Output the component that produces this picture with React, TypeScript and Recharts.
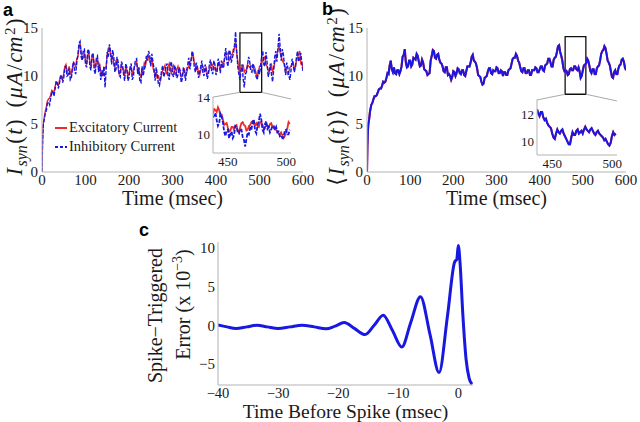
import React from 'react';
import { LineChart, Line, XAxis, YAxis, ReferenceArea, ReferenceLine, Legend } from 'recharts';

const SERIF = '"Liberation Serif", "Times New Roman", "DejaVu Serif", serif';
const SANS = '"Liberation Sans", Arial, sans-serif';
const RED = '#f02a2a';
const BLUE = '#1818e0';
const AXIS = '#b3b3b3';
const INK = '#1a1a1a';

// ---- panel a / b : synaptic currents over time (coarse samples) ----
const timeMs = [
  0, 1, 2, 3, 5, 7, 10, 15, 20, 25,
  30, 35, 40, 45, 50, 55, 60, 65, 70, 75,
  80, 85, 90, 95, 100, 105, 110, 115, 120, 125,
  130, 135, 140, 145, 150, 155, 160, 165, 170, 175,
  180, 185, 190, 195, 200, 205, 210, 215, 220, 225,
  230, 235, 240, 245, 250, 255, 260, 265, 270, 275,
  280, 285, 290, 295, 300, 305, 310, 315, 320, 325,
  330, 335, 340, 345, 350, 355, 360, 365, 370, 375,
  380, 385, 390, 395, 400, 405, 410, 415, 420, 425,
  430, 435, 440, 445, 450, 455, 460, 465, 470, 475,
  480, 485, 490, 495, 500, 505, 510, 515, 520, 525,
  530, 535, 540, 545, 550, 555, 560, 565, 570, 575,
  580, 585, 590, 595, 600,
];
const excitatory = [
  0, 2.8, 4.2, 5.0, 5.6, 6.2, 6.8, 7.6, 8.0, 8.4,
  8.9, 9.2, 9.5, 9.9, 10.3, 11.2, 10.6, 10.4, 10.8, 11.3,
  11.8, 12.9, 12.6, 11.9, 11.6, 12.2, 11.5, 11.9, 11.2, 11.6,
  10.9, 10.5, 10.2, 10.8, 12.3, 13.0, 11.8, 11.2, 11.6, 10.8,
  10.4, 10.9, 10.1, 10.6, 10.3, 10.9, 10.5, 11.2, 10.6, 10.1,
  10.7, 11.3, 11.6, 12.0, 11.4, 10.9, 10.2, 9.7, 9.6, 10.2,
  10.8, 10.4, 11.0, 10.6, 10.9, 10.3, 10.7, 10.4, 9.9, 10.5,
  10.1, 10.8, 11.5, 12.1, 11.4, 10.7, 10.3, 10.6, 11.0, 10.5,
  10.2, 10.8, 11.3, 10.7, 10.5, 11.2, 10.8, 11.4, 11.8, 12.3,
  11.6, 12.2, 12.8, 13.6, 11.6, 10.5, 10.8, 10.4, 10.6, 11.0,
  11.1, 10.9, 10.7, 9.9, 11.0, 11.6, 11.9, 11.2, 10.6, 11.0,
  10.5, 11.4, 12.2, 13.2, 12.0, 11.4, 10.6, 10.2, 10.9, 11.3,
  10.8, 11.6, 12.3, 11.3, 10.8,
];
const inhibitory = [
  0, 2.5, 4.0, 5.1, 5.4, 6.0, 6.4, 7.3, 7.7, 8.3,
  8.6, 9.3, 9.2, 10.1, 9.8, 11.0, 10.1, 9.6, 10.9, 10.5,
  11.4, 13.4, 12.0, 12.7, 11.2, 12.6, 11.0, 12.2, 10.6, 11.9,
  10.4, 9.6, 10.0, 8.8, 12.5, 13.3, 11.2, 12.0, 10.7, 11.5,
  9.9, 11.2, 9.5, 10.9, 9.8, 11.3, 9.9, 11.7, 10.2, 9.4,
  11.0, 10.6, 12.1, 12.6, 11.0, 11.5, 9.5, 10.2, 9.0, 10.6,
  9.9, 11.0, 10.0, 11.2, 10.2, 11.1, 9.8, 10.9, 9.3, 10.9,
  9.5, 11.2, 10.7, 12.6, 11.0, 11.4, 9.8, 11.0, 10.3, 11.2,
  9.7, 11.3, 10.5, 11.6, 10.1, 11.8, 10.3, 11.0, 12.2, 11.5,
  12.7, 11.4, 12.3, 14.6, 11.0, 9.6, 11.2, 8.8, 10.4, 12.0,
  10.5, 11.3, 10.2, 9.6, 10.2, 12.1, 11.2, 12.5, 9.9, 11.3,
  9.4, 12.0, 11.5, 14.4, 11.6, 12.2, 10.1, 10.9, 9.6, 11.8,
  10.4, 12.0, 11.5, 12.4, 10.5,
];
const meanCurrent = [
  0, 2.7, 4.1, 4.9, 5.5, 6.3, 7.0, 7.6, 7.9, 8.3,
  8.7, 9.0, 9.3, 9.8, 10.2, 11.6, 10.4, 10.3, 10.6, 10.2,
  11.0, 12.2, 11.4, 11.0, 11.6, 11.2, 11.8, 12.3, 11.5, 11.1,
  11.4, 10.6, 10.1, 10.3, 12.1, 12.6, 11.8, 12.3, 11.4, 11.0,
  10.4, 10.9, 10.2, 9.6, 10.5, 10.0, 10.8, 10.3, 10.6, 10.1,
  10.5, 11.0, 11.4, 12.2, 11.5, 10.8, 10.0, 9.4, 9.2, 9.9,
  10.5, 10.8, 10.2, 10.5, 10.9, 10.3, 10.6, 10.0, 10.4, 10.1,
  10.7, 11.3, 11.9, 12.3, 11.6, 10.9, 10.4, 10.8, 10.3, 10.6,
  10.1, 10.6, 10.9, 10.4, 10.7, 11.0, 10.5, 11.2, 11.8, 11.4,
  11.0, 11.9, 12.5, 13.2, 12.1, 10.8, 10.6, 10.1, 10.7, 10.6,
  11.0, 10.7, 10.9, 9.8, 10.6, 11.2, 11.8, 11.1, 10.3, 10.7,
  10.2, 11.0, 11.6, 12.6, 13.1, 12.3, 11.4, 10.5, 9.8, 10.6,
  10.2, 11.1, 11.7, 11.5, 10.6,
];

// ---- extra samples between the coarse ones (the fast fluctuations) ----
const midTimeMs = [
  12.5, 17.5, 22.5, 27.5, 32.5, 37.5, 42.5, 47.5, 52.5, 57.5,
  62.5, 67.5, 72.5, 77.5, 82.5, 87.5, 92.5, 97.5, 102.5, 107.5,
  112.5, 117.5, 122.5, 127.5, 132.5, 137.5, 142.5, 147.5, 152.5, 157.5,
  162.5, 167.5, 172.5, 177.5, 182.5, 187.5, 192.5, 197.5, 202.5, 207.5,
  212.5, 217.5, 222.5, 227.5, 232.5, 237.5, 242.5, 247.5, 252.5, 257.5,
  262.5, 267.5, 272.5, 277.5, 282.5, 287.5, 292.5, 297.5, 302.5, 307.5,
  312.5, 317.5, 322.5, 327.5, 332.5, 337.5, 342.5, 347.5, 352.5, 357.5,
  362.5, 367.5, 372.5, 377.5, 382.5, 387.5, 392.5, 397.5, 402.5, 407.5,
  412.5, 417.5, 422.5, 427.5, 432.5, 437.5, 442.5, 447.5, 452.5, 457.5,
  462.5, 467.5, 472.5, 477.5, 482.5, 487.5, 492.5, 497.5, 502.5, 507.5,
  512.5, 517.5, 522.5, 527.5, 532.5, 537.5, 542.5, 547.5, 552.5, 557.5,
  562.5, 567.5, 572.5, 577.5, 582.5, 587.5, 592.5, 597.5,
];
const excitatoryMid = [
  7.4, 7.7, 8.5, 8.3, 9.3, 9.0, 10.0, 9.6, 11.0, 10.4,
  11.0, 10.1, 11.4, 10.9, 12.0, 13.4, 12.0, 12.4, 11.2, 12.4,
  11.0, 12.2, 10.8, 11.8, 11.2, 10.0, 10.9, 11.0, 12.9, 12.2,
  12.1, 10.9, 11.7, 10.2, 11.1, 10.5, 10.9, 10.0, 10.8, 10.2,
  11.0, 11.4, 10.8, 9.9, 10.6, 11.0, 12.1, 11.5, 11.8, 10.4,
  10.4, 10.1, 9.5, 10.6, 11.1, 10.2, 11.3, 10.3, 11.1, 10.1,
  11.0, 10.5, 10.1, 10.7, 10.3, 11.0, 11.6, 12.3, 11.2, 10.9,
  10.1, 10.9, 10.6, 10.8, 10.3, 10.9, 11.1, 10.9, 10.8, 11.4,
  10.9, 11.3, 12.1, 12.4, 11.8, 12.3, 12.9, 12.4, 10.6, 10.9,
  11.2, 10.6, 11.2, 10.9, 11.0, 10.5, 10.2, 10.4, 11.1, 11.5,
  12.0, 11.0, 10.4, 11.2, 10.8, 11.7, 12.8, 12.4, 11.6, 11.2,
  10.5, 10.4, 11.0, 11.4, 10.9, 11.9, 12.6, 11.4,
];
const inhibitoryMid = [
  7.2, 7.0, 8.4, 7.9, 9.5, 8.7, 9.9, 9.3, 10.9, 10.0,
  10.8, 9.8, 11.5, 10.2, 12.2, 13.6, 11.6, 12.8, 10.9, 12.8,
  10.6, 12.4, 10.2, 12.1, 11.2, 10.6, 11.0, 10.7, 12.0, 12.6,
  12.7, 10.4, 12.0, 10.1, 11.5, 10.2, 11.3, 9.5, 10.9, 9.6,
  11.0, 11.8, 10.9, 9.3, 10.0, 11.4, 11.6, 12.2, 12.3, 10.8,
  10.9, 9.2, 9.8, 11.1, 10.3, 11.3, 9.6, 11.5, 9.9, 10.7,
  10.1, 10.6, 9.7, 10.3, 10.6, 11.9, 11.5, 12.0, 10.4, 10.7,
  10.4, 11.6, 10.0, 10.5, 10.2, 11.7, 10.2, 11.2, 10.4, 11.1,
  11.6, 10.8, 12.9, 11.0, 12.5, 11.9, 13.2, 12.7, 10.2, 10.5,
  9.7, 10.2, 11.2, 11.5, 10.4, 11.0, 9.9, 10.7, 11.0, 12.6,
  11.0, 11.4, 10.5, 10.2, 10.6, 12.6, 12.9, 13.0, 12.8, 11.0,
  11.4, 10.0, 10.6, 11.1, 10.9, 12.6, 11.8, 11.2,
];
const meanCurrentMid = [
  7.2, 7.9, 8.0, 8.6, 8.7, 9.4, 9.4, 10.3, 11.1, 10.7,
  10.9, 10.2, 10.6, 10.5, 12.0, 12.8, 10.9, 11.6, 11.0, 11.9,
  11.7, 12.1, 11.0, 11.7, 10.7, 10.5, 10.2, 11.6, 12.7, 11.9,
  12.2, 11.7, 11.3, 10.5, 10.9, 10.1, 10.0, 9.9, 10.4, 10.3,
  10.7, 10.2, 10.6, 10.0, 11.0, 11.0, 12.0, 11.6, 11.3, 10.1,
  9.9, 9.1, 9.8, 10.0, 10.8, 10.3, 10.6, 10.5, 10.8, 10.3,
  10.5, 10.4, 10.1, 10.6, 10.8, 11.8, 11.9, 12.1, 11.4, 10.5,
  10.8, 10.3, 10.6, 10.1, 10.6, 10.6, 10.8, 10.4, 11.0, 10.6,
  11.1, 11.3, 11.8, 11.0, 11.7, 12.0, 13.1, 12.5, 11.6, 10.5,
  10.5, 10.2, 10.8, 10.6, 11.0, 10.6, 10.5, 10.0, 11.1, 11.3,
  11.6, 10.5, 10.7, 10.2, 10.8, 11.1, 12.3, 12.7, 12.9, 11.6,
  11.1, 9.9, 10.4, 10.2, 10.8, 11.2, 11.8, 10.9,
];

// ---- insets (zoom 438-500 ms) ----
const insetTime = [
  438, 440, 442, 444, 446, 448, 450, 452, 454, 456, 458, 460, 462, 464, 466, 468,
  470, 472, 474, 476, 478, 480, 482, 484, 486, 488, 490, 492, 494, 496, 498, 500,
];
const insetExc = [
  12.2, 12.6, 12.9, 12.0, 11.6, 11.1, 10.7, 10.4, 10.8, 10.9, 10.4, 10.8, 11.3, 10.9, 10.5, 11.0,
  11.4, 11.0, 10.9, 11.3, 11.0, 10.7, 10.9, 11.1, 10.8, 10.5, 10.3, 10.0, 9.9, 9.8, 10.6, 11.1,
];
const insetInh = [
  11.8, 12.3, 10.9, 12.2, 11.3, 9.8, 10.5, 10.0, 9.6, 10.9, 10.2, 10.6, 9.7, 8.7, 10.2, 10.7,
  11.3, 10.4, 11.0, 12.2, 10.5, 11.1, 10.6, 10.2, 10.9, 10.5, 10.2, 9.8, 9.6, 10.4, 10.0, 10.5,
];
const insetMean = [
  12.4, 11.9, 12.2, 11.6, 11.4, 11.1, 10.6, 10.2, 10.9, 10.6, 10.9, 10.4, 10.0, 9.8, 10.7, 10.5,
  10.9, 10.7, 10.6, 11.1, 10.8, 10.9, 10.8, 10.5, 10.8, 10.5, 10.3, 10.2, 9.8, 9.9, 10.7, 10.6,
];
const insetMidTime = [
  439, 441, 443, 445, 447, 449, 451, 453, 455, 457,
  459, 461, 463, 465, 467, 469, 471, 473, 475, 477,
  479, 481, 483, 485, 487, 489, 491, 493, 495, 497, 499,
];
const insetExcMid = [
  12.7, 12.4, 12.6, 12.1, 11.0, 11.2, 10.3, 10.8, 10.5, 11.0,
  10.2, 11.2, 11.0, 10.4, 10.9, 11.3, 11.1, 11.2, 10.8, 11.3,
  10.6, 11.0, 10.7, 11.2, 10.7, 10.5, 10.1, 10.2, 9.6, 10.3, 11.3,
];
const insetInhMid = [
  12.0, 11.5, 11.2, 11.9, 10.3, 10.4, 9.6, 10.3, 9.9, 10.8,
  10.1, 10.5, 9.4, 9.5, 10.0, 10.5, 11.6, 10.1, 11.4, 11.6,
  10.2, 11.4, 10.8, 10.5, 10.9, 10.8, 10.3, 9.9, 9.7, 10.5, 10.0,
];
const insetMeanMid = [
  12.1, 12.2, 11.8, 11.7, 11.2, 11.0, 10.3, 10.6, 10.7, 10.8,
  10.6, 10.2, 9.8, 10.3, 10.5, 10.8, 10.6, 10.8, 10.9, 10.9,
  10.7, 11.0, 10.6, 10.7, 10.6, 10.4, 10.1, 10.0, 9.7, 10.4, 10.5,
];

// ---- panel c : spike-triggered error ----
const lagMs = [
  -40, -38.5, -37, -35.2, -33.5, -31.8, -30, -28, -26, -24, -22, -20.5, -19, -17.3, -15.5, -14,
  -12.5, -11, -9.4, -7.9, -6.3, -4.7, -3.2, -1.8, -0.6, -0.25, 0, 0.3, 0.75, 1.3, 1.8, 2.3,
];
const spikeError = [
  0.05, -0.2, -0.4, -0.2, 0, -0.2, -0.4, -0.2, 0, -0.2, -0.45, -0.1, 0.35, -0.4, -1.2, 0,
  1.3, -0.6, -2.8, 0.4, 3.7, -1.2, -6.1, 1.2, 8.2, 8.5, 10.3, 8.0, 1.5, -4.4, -6.8, -7.6,
];

const mainTicksX = [0, 100, 200, 300, 400, 500, 600];
const mainTicksY = [0, 5, 10, 15];
const insetTicksX = [450, 480, 500];
const insetTicksYA = [8, 10, 12, 14];
const insetTicksYB = [10, 12];
const cTicksX = [-40, -30, -20, -10, 0];
const cTicksY = [-5, 0, 5, 10];

const byTime = (a: { t: number }, b: { t: number }) => a.t - b.t;
const mainData = [
  ...timeMs.map((t, i) => ({ t, exc: excitatory[i], inh: inhibitory[i], mean: meanCurrent[i] })),
  ...midTimeMs.map((t, i) => ({ t, exc: excitatoryMid[i], inh: inhibitoryMid[i], mean: meanCurrentMid[i] })),
].sort(byTime);
const insetData = [
  ...insetTime.map((t, i) => ({ t, exc: insetExc[i], inh: insetInh[i], mean: insetMean[i] })),
  ...insetMidTime.map((t, i) => ({ t, exc: insetExcMid[i], inh: insetInhMid[i], mean: insetMeanMid[i] })),
].sort(byTime);
const cData = lagMs.map((t, i) => ({ t, err: spikeError[i] }));

const tickStyle = { fontSize: 15, fill: INK, fontFamily: SERIF };
const cTickStyle = { fontSize: 14.5, fill: INK, fontFamily: SERIF };
const insetTickStyle = { fontSize: 13, fill: INK, fontFamily: SERIF };
const minus = (v: number) => (v < 0 ? `\u2212${-v}` : `${v}`);

const SynLabel = (props: any) => {
  const vb = props.viewBox || { x: 0, y: 28, width: 42, height: 144 };
  const cx = vb.x + props.dx;
  const cy = vb.y + vb.height / 2 - 3;
  const bracket = props.bracket;
  const g = 1.5;
  return (
    <text x={cx} y={cy} transform={`rotate(-90, ${cx}, ${cy})`} textAnchor="middle" fontFamily={SERIF} fontSize={22.5} fill={INK}>
      {bracket ? <tspan>{'\u27E8'}</tspan> : null}
      <tspan fontStyle="italic" dx={bracket ? g : 0}>I</tspan>
      <tspan fontStyle="italic" fontSize={16} dy={5} dx={g}>syn</tspan>
      <tspan dy={-5} dx={g}>(</tspan>
      <tspan fontStyle="italic" dx={g}>t</tspan>
      <tspan dx={g}>)</tspan>
      {bracket ? <tspan dx={g}>{'\u27E9'}</tspan> : null}
      <tspan dx={12}>(</tspan>
      <tspan fontStyle="italic" dx={g}>{'\u03BC'}</tspan>
      <tspan fontStyle="italic" dx={g}>A</tspan>
      <tspan dx={g}>/</tspan>
      <tspan fontStyle="italic" dx={g}>cm</tspan>
      <tspan fontSize={15} dy={-7} dx={g}>2</tspan>
      <tspan dy={7} dx={g}>)</tspan>
    </text>
  );
};

const ErrLabel = (props: any) => {
  const vb = props.viewBox || { x: 0, y: 242, width: 88, height: 143 };
  const cy1 = vb.y + vb.height / 2 + 2;
  const cy2 = vb.y + vb.height / 2 - 9;
  const x1 = vb.x + 32;
  const x2 = vb.x + 60;
  return (
    <g fontFamily={SERIF} fontSize={20} fill={INK}>
      <text x={x1} y={cy1} transform={`rotate(-90, ${x1}, ${cy1})`} textAnchor="middle">Spike{'\u2212'}Triggered</text>
      <text x={x2} y={cy2} transform={`rotate(-90, ${x2}, ${cy2})`} textAnchor="middle">
        <tspan>Error (x 10</tspan>
        <tspan fontSize={14} dy={-8}>{'\u2212'}3</tspan>
        <tspan dy={8}>)</tspan>
      </text>
    </g>
  );
};

const renderLegend = (props: any) => {
  const payload = props.payload || [];
  return (
    <div style={{ fontFamily: SERIF, fontSize: 14.5, color: INK, lineHeight: '19px' }}>
      {payload.map((entry: any, i: number) => (
        <div key={i} style={{ display: 'flex', alignItems: 'center', whiteSpace: 'nowrap' }}>
          <svg width={12} height={10} style={{ marginRight: 2 }}>
            <line x1={0} y1={5} x2={12} y2={5} stroke={entry.color} strokeWidth={2}
              strokeDasharray={entry.payload && entry.payload.strokeDasharray ? '3 2' : undefined} />
          </svg>
          <span>{entry.value}</span>
        </div>
      ))}
    </div>
  );
};

const letterStyle = (left: number, top: number): React.CSSProperties => ({
  position: 'absolute', left, top, fontFamily: SANS, fontWeight: 'bold', fontSize: 18, lineHeight: '20px', color: '#000',
});

export default function App() {
  return (
    <div style={{ position: 'absolute', left: 0, top: 0, width: 640, height: 422, background: '#fff', overflow: 'hidden' }}>
      {/* panel a */}
      <div style={{ position: 'absolute', left: 0, top: 0 }}>
        <LineChart width={320} height={215} data={mainData} margin={{ top: 28, right: 17, left: 0, bottom: 0 }}>
          <XAxis dataKey="t" type="number" domain={[0, 600]} ticks={mainTicksX} allowDataOverflow
            stroke={AXIS} tickLine={false} tickSize={0} tickMargin={2} tick={tickStyle} height={43}
            label={{ value: 'Time (msec)', position: 'insideBottom', offset: 10, fill: INK, fontSize: 20, fontFamily: SERIF }} />
          <YAxis type="number" domain={[0, 15]} ticks={mainTicksY} allowDataOverflow width={42}
            stroke={AXIS} tickLine={false} tickSize={0} tickMargin={4} tick={tickStyle}
            label={(p: any) => <SynLabel {...p} dx={22} bracket={false} />} />
          <Line dataKey="exc" name="Excitatory Current" stroke={RED} strokeWidth={1.4} dot={false} isAnimationActive={false} />
          <Line dataKey="inh" name="Inhibitory Current" stroke={BLUE} strokeWidth={1.4} strokeDasharray="4 1.5" dot={false} isAnimationActive={false} />
          <ReferenceArea x1={455} x2={505} y1={8.3} y2={14.5} stroke="#111" strokeWidth={1.3} fill="none" fillOpacity={0} />
          <ReferenceLine segment={[{ x: 455, y: 8.3 }, { x: 393, y: 7.8 }]} stroke="#aaa" strokeWidth={1} />
          <ReferenceLine segment={[{ x: 505, y: 8.3 }, { x: 573, y: 7.6 }]} stroke="#aaa" strokeWidth={1} />
          <Legend content={renderLegend} layout="vertical" align="center" verticalAlign="middle"
            wrapperStyle={{ left: 55, top: 118, right: 'auto', bottom: 'auto', width: 'auto', height: 'auto' }} />
        </LineChart>
      </div>

      {/* inset a */}
      <div style={{ position: 'absolute', left: 180, top: 85 }}>
        <LineChart width={116} height={86} data={insetData} margin={{ top: 12, right: 5, left: 0, bottom: 0 }}>
          <XAxis dataKey="t" type="number" domain={[438, 501]} ticks={insetTicksX} allowDataOverflow
            stroke={AXIS} tickLine={false} tickSize={0} tickMargin={4} tick={insetTickStyle} height={18} />
          <YAxis type="number" domain={[8, 14]} ticks={insetTicksYA} allowDataOverflow width={33}
            stroke={AXIS} tickLine={false} tickSize={0} tickMargin={3} tick={insetTickStyle} />
          <Line dataKey="exc" stroke={RED} strokeWidth={1.8} dot={false} isAnimationActive={false} />
          <Line dataKey="inh" stroke={BLUE} strokeWidth={1.8} strokeDasharray="4 1.5" dot={false} isAnimationActive={false} />
        </LineChart>
      </div>

      {/* panel b */}
      <div style={{ position: 'absolute', left: 320, top: 0 }}>
        <LineChart width={320} height={215} data={mainData} margin={{ top: 28, right: 14, left: 0, bottom: 0 }}>
          <XAxis dataKey="t" type="number" domain={[0, 600]} ticks={mainTicksX} allowDataOverflow
            stroke={AXIS} tickLine={false} tickSize={0} tickMargin={2} tick={tickStyle} height={43}
            label={{ value: 'Time (msec)', position: 'insideBottom', offset: 10, fill: INK, fontSize: 20, fontFamily: SERIF }} />
          <YAxis type="number" domain={[0, 15]} ticks={mainTicksY} allowDataOverflow width={47}
            stroke={AXIS} tickLine={false} tickSize={0} tickMargin={4} tick={tickStyle}
            label={(p: any) => <SynLabel {...p} dx={24} bracket={true} />} />
          <Line dataKey="mean" stroke={RED} strokeWidth={2.1} dot={false} isAnimationActive={false} />
          <Line dataKey="mean" stroke={BLUE} strokeWidth={2.0} dot={false} isAnimationActive={false} />
          <ReferenceArea x1={459} x2={507} y1={8.1} y2={14.1} stroke="#111" strokeWidth={1.3} fill="none" fillOpacity={0} />
          <ReferenceLine segment={[{ x: 459, y: 8.1 }, { x: 393, y: 7.5 }]} stroke="#aaa" strokeWidth={1} />
          <ReferenceLine segment={[{ x: 507, y: 8.1 }, { x: 579, y: 7.4 }]} stroke="#aaa" strokeWidth={1} />
        </LineChart>
      </div>

      {/* inset b */}
      <div style={{ position: 'absolute', left: 500, top: 88 }}>
        <LineChart width={122} height={85} data={insetData} margin={{ top: 12, right: 5, left: 0, bottom: 0 }}>
          <XAxis dataKey="t" type="number" domain={[438, 501]} ticks={insetTicksX} allowDataOverflow
            stroke={AXIS} tickLine={false} tickSize={0} tickMargin={4} tick={insetTickStyle} height={18} />
          <YAxis type="number" domain={[9, 13.1]} ticks={insetTicksYB} allowDataOverflow width={37}
            stroke={AXIS} tickLine={false} tickSize={0} tickMargin={3} tick={insetTickStyle} />
          <Line dataKey="mean" stroke={RED} strokeWidth={2.1} dot={false} isAnimationActive={false} />
          <Line dataKey="mean" stroke={BLUE} strokeWidth={2.0} dot={false} isAnimationActive={false} />
        </LineChart>
      </div>

      {/* panel c */}
      <div style={{ position: 'absolute', left: 130, top: 215 }}>
        <LineChart width={360} height={207} data={cData} margin={{ top: 27, right: 17, left: 0, bottom: 0 }}>
          <XAxis dataKey="t" type="number" domain={[-40, 2.45]} ticks={cTicksX} allowDataOverflow
            stroke={AXIS} tickLine={false} tickSize={0} tickMargin={3} tick={cTickStyle} height={37}
            tickFormatter={minus}
            label={{ value: 'Time Before Spike (msec)', position: 'insideBottom', offset: 4, fill: INK, fontSize: 19.5, fontFamily: SERIF }} />
          <YAxis type="number" domain={[-7.7, 10.75]} ticks={cTicksY} allowDataOverflow width={88}
            stroke={AXIS} tickLine={false} tickSize={0} tickMargin={3} tick={tickStyle}
            tickFormatter={minus}
            label={(p: any) => <ErrLabel {...p} />} />
          <Line dataKey="err" type="monotone" stroke={BLUE} strokeWidth={3} dot={false} isAnimationActive={false} />
        </LineChart>
      </div>

      <div style={letterStyle(3, 0)}>a</div>
      <div style={letterStyle(322, -1)}>b</div>
      <div style={letterStyle(139, 220)}>c</div>
    </div>
  );
}
